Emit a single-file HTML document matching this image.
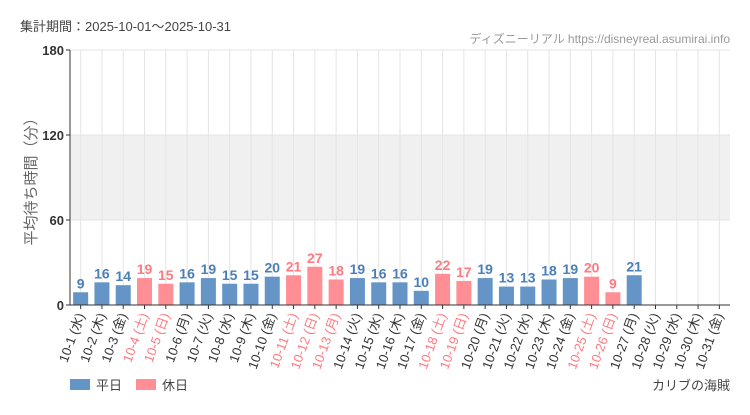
<!DOCTYPE html>
<html><head><meta charset="utf-8"><style>
body{margin:0;background:#fff;font-family:"Liberation Sans","Noto Sans CJK JP",sans-serif}
</style></head><body>
<svg id="chart" width="750" height="410" xmlns="http://www.w3.org/2000/svg" font-family="'Liberation Sans','Noto Sans CJK JP',sans-serif">
<rect width="750" height="410" fill="#fff"/>
<text x="20" y="31" font-size="13" fill="#444">集計期間：2025-10-01～2025-10-31</text>
<text x="730" y="43" font-size="12" fill="#999" text-anchor="end">ディズニーリアル https://disneyreal.asumirai.info</text>
<text transform="translate(36,178) rotate(-90)" font-size="15" fill="#666" text-anchor="middle">平均待ち時間（分）</text>
<g id="plot"></g>
<rect x="70" y="379" width="20" height="11" fill="#6495c6"/>
<text x="96" y="390" font-size="13" fill="#444">平日</text>
<rect x="136" y="379" width="20" height="11" fill="#ff8f94"/>
<text x="162" y="390" font-size="13" fill="#444">休日</text>
<text x="730" y="390" font-size="13" fill="#444" text-anchor="end">カリブの海賊</text>
</svg>
<script>
const categories=["10-1 (水)","10-2 (木)","10-3 (金)","10-4 (土)","10-5 (日)","10-6 (月)","10-7 (火)","10-8 (水)","10-9 (木)","10-10 (金)","10-11 (土)","10-12 (日)","10-13 (月)","10-14 (火)","10-15 (水)","10-16 (木)","10-17 (金)","10-18 (土)","10-19 (日)","10-20 (月)","10-21 (火)","10-22 (水)","10-23 (木)","10-24 (金)","10-25 (土)","10-26 (日)","10-27 (月)","10-28 (火)","10-29 (水)","10-30 (木)","10-31 (金)"];
const values=[9,16,14,19,15,16,19,15,15,20,21,27,18,19,16,16,10,22,17,19,13,13,18,19,20,9,21,null,null,null,null];
const holidays=[0,0,0,1,1,0,0,0,0,0,1,1,1,0,0,0,0,1,1,0,0,0,0,0,1,1,0,0,0,0,0];
const yTicks=[0,60,120,180];
const X0=70,X1=730,Y0=305,Y1=50,YMAX=180;
const bw=(X1-X0)/categories.length;
const xc=i=>X0+bw*(i+0.5);
const y=v=>Y0-(v/YMAX)*(Y0-Y1);
const NS="http://www.w3.org/2000/svg";
const g=document.getElementById('plot');
function mk(t,a){const e=document.createElementNS(NS,t);for(const k in a)e.setAttribute(k,a[k]);g.appendChild(e);return e;}
let e=mk('rect',{x:X0,y:y(120),width:X1-X0,height:y(60)-y(120),fill:'#f0f0f0'});


categories.forEach((c,i)=>{const l=mk('line',{x1:xc(i),x2:xc(i),y1:Y1,y2:Y0,stroke:'#e4e4e4'});

});
yTicks.forEach(t=>{const l=mk('line',{x1:X0,x2:X1,y1:y(t),y2:y(t),stroke:'#e4e4e4'});


const tk=mk('line',{x1:X0-4,x2:X0,y1:y(t),y2:y(t),stroke:'#333'});


const tx=mk('text',{x:X0-6,y:y(t)+5,'font-size':13,'font-weight':'bold',fill:'#333','text-anchor':'end'});tx.textContent=t;

});
categories.forEach((c,i)=>{const col=holidays[i]?'#ff8f94':'#6495c6',tc=holidays[i]?'#ff7a80':'#4a7fb8';
const v=values[i];
if(v!==null){const b=mk('rect',{x:xc(i)-7.5,y:y(v),width:15,height:Y0-y(v),fill:col});


const vt=mk('text',{x:xc(i),y:y(v)-4,'font-size':14,'font-weight':'bold',fill:tc,'text-anchor':'middle'});vt.textContent=v;

}
const tk=mk('line',{x1:xc(i),x2:xc(i),y1:Y0,y2:Y0+4,stroke:'#333'});


const lt=mk('text',{transform:`translate(${xc(i)+4},${Y0+10}) rotate(-70)`,'font-size':13,fill:holidays[i]?'#ff7a80':'#333','text-anchor':'end'});lt.textContent=c;

});
e=mk('line',{x1:X0,x2:X0,y1:Y1,y2:Y0,stroke:'#333'});


e=mk('line',{x1:X0,x2:X1,y1:Y0,y2:Y0,stroke:'#333'});


</script>
</body></html>
